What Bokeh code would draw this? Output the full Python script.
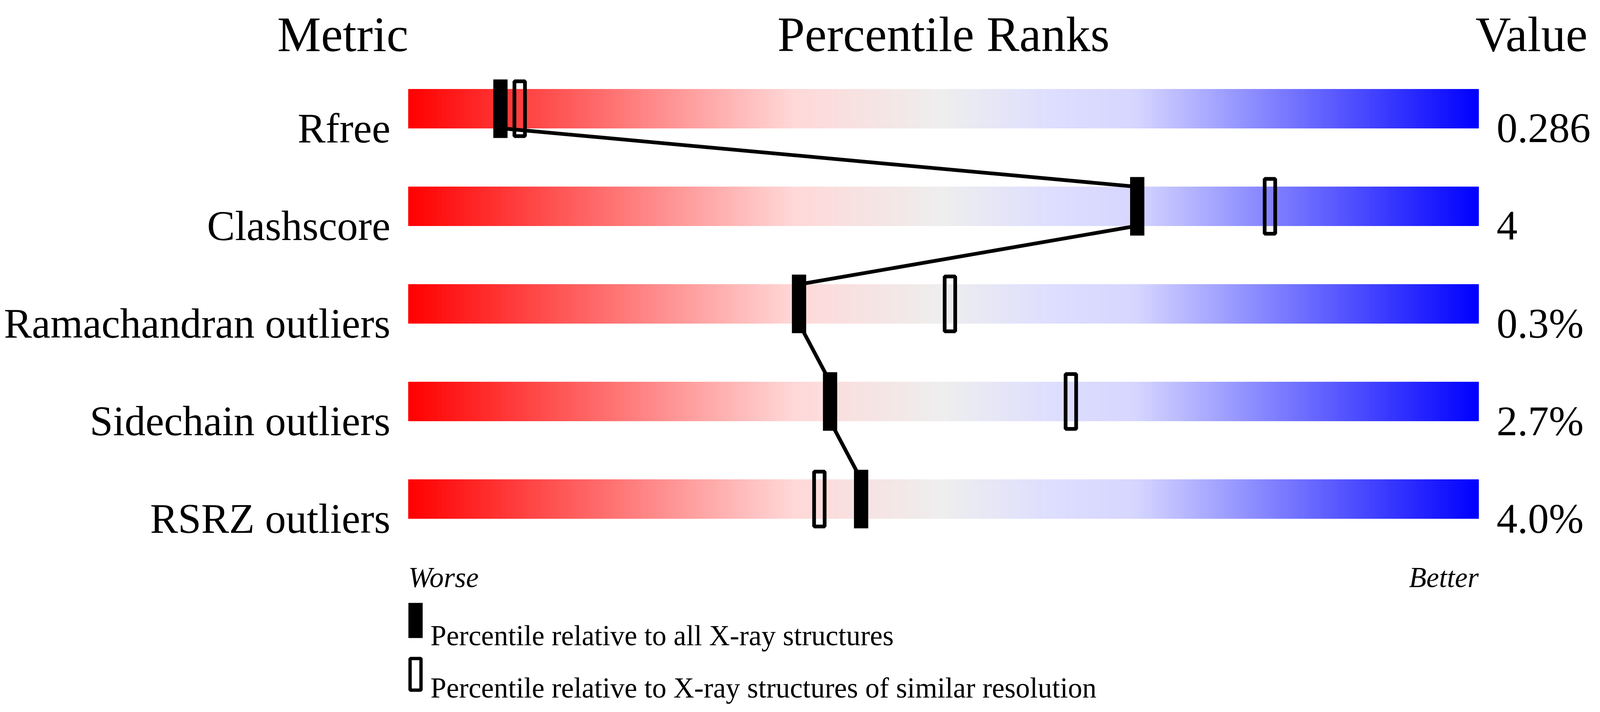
import numpy as np
from bokeh.core.properties import value
from bokeh.embed import file_html
from bokeh.models import Range1d
from bokeh.plotting import figure
from bokeh.resources import INLINE

# --- data ---
metrics = ["Rfree", "Clashscore", "Ramachandran outliers",
           "Sidechain outliers", "RSRZ outliers"]
metric_values = ["0.286", "4", "0.3%", "2.7%", "4.0%"]
pct_all_xray = [8.6, 68.1, 36.5, 39.4, 42.3]       # filled markers
pct_similar_res = [10.4, 80.5, 50.6, 61.9, 38.4]   # open markers
headers = ["Metric", "Percentile Ranks", "Value"]
scale_ends = ["Worse", "Better"]
legend_labels = ["Percentile relative to all X-ray structures",
                 "Percentile relative to X-ray structures of similar resolution"]

# colour stops of the bar gradient (percentile, rgb)
GRADIENT = [(0, (255, 0, 0)), (36, (255, 216, 216)), (50, (238, 238, 238)),
            (60, (222, 222, 255)), (68, (214, 214, 255)), (100, (0, 0, 255))]

# --- layout ---
# the browser viewport is 4096 wide, so horizontal positions taken from the
# 4485 px reference are squeezed by K; vertical ones are kept as they are
K = 4096 / 4485
W, H = 4096 - 16, 1824 - 16
BAR_X0 = 1153 * K - 8          # canvas px of percentile 0
PX_PER_PCT = 30 * K
ROW0 = 286 - 8                 # canvas px of first row centre
ROW_PX = 250
BAR_H = 100 / ROW_PX
FONT = "Liberation Serif"


def px_x(px):
    """canvas px -> percentile units"""
    return (px - BAR_X0) / PX_PER_PCT


def ref_x(px):
    """reference page px -> percentile units"""
    return px_x(px * K - 8)


def ref_y(py):
    """reference page px -> row units"""
    return (py - 8 - ROW0) / ROW_PX


p = figure(width=W, height=H, output_backend="svg", toolbar_location=None,
           tools="", min_border=0, x_axis_location=None, y_axis_location=None,
           x_range=Range1d(px_x(0), px_x(W)),
           y_range=Range1d((H - ROW0) / ROW_PX, -ROW0 / ROW_PX))
p.grid.visible = False
p.outline_line_color = None
p.background_fill_color = "white"
p.border_fill_color = "white"

rows = list(range(len(metrics)))

# gradient bars drawn as thin slices
n = 600
edges = np.linspace(0, 100, n + 1)
mids = (edges[:-1] + edges[1:]) / 2
stops = [s for s, _ in GRADIENT]
cols = []
for m in mids:
    rgb = [np.interp(m, stops, [c[k] for _, c in GRADIENT]) for k in range(3)]
    cols.append("#%02x%02x%02x" % tuple(int(round(v)) for v in rgb))

for i in rows:
    p.quad(left=edges[:-1], right=edges[1:], top=[i - BAR_H / 2] * n,
           bottom=[i + BAR_H / 2] * n, fill_color=cols, line_color=cols,
           line_width=1)

# connecting line through the filled markers
line_x, line_y = [], []
for i, x in zip(rows, pct_all_xray):
    line_x += [x, x]
    line_y += [i - BAR_H / 2, i + BAR_H / 2]
p.line(line_x, line_y, line_width=9.5, line_color="black", line_join="bevel")

p.rect(x=pct_similar_res, y=rows, width=27, height=140.5, width_units="screen",
       height_units="screen", fill_color=None, line_color="black",
       line_width=9.5)
p.rect(x=pct_all_xray, y=rows, width=36.5, height=150, width_units="screen",
       height_units="screen", fill_color="black", line_color=None)

# row labels and values
p.text(x=[0] * len(rows), y=[i + BAR_H / 2 for i in rows], text=metrics,
       x_offset=-46, text_align="right", text_baseline="alphabetic",
       text_font=value(FONT), text_font_size="107px", text_color="black")
p.text(x=[100] * len(rows), y=[i + BAR_H / 2 for i in rows],
       text=metric_values, x_offset=46, text_align="left",
       text_baseline="alphabetic", text_font=value(FONT),
       text_font_size="107px", text_color="black")

# column headers
p.text(x=[0, 50, 100], y=[ref_y(96)] * 3, text=headers, x_offset=[0, 0, -8],
       text_align=["right", "center", "left"], text_baseline="alphabetic",
       text_font=value(FONT), text_font_size="126px", text_color="black")

p.text(x=[0, 100], y=[ref_y(1487)] * 2, text=scale_ends,
       text_align=["left", "right"], text_baseline="alphabetic",
       text_font=value(FONT), text_font_style="italic",
       text_font_size="73px", text_color="black")

# legend
lx = ref_x(1173)
p.rect(x=[lx], y=[ref_y(1597)], width=36.5, height=90, width_units="screen",
       height_units="screen", fill_color="black", line_color=None)
p.rect(x=[lx], y=[ref_y(1735)], width=28, height=81, width_units="screen",
       height_units="screen", fill_color=None, line_color="black",
       line_width=8.5)
p.text(x=[ref_x(1215)] * 2, y=[ref_y(1636), ref_y(1770)], text=legend_labels,
       text_align="left", text_baseline="alphabetic", text_font=value(FONT),
       text_font_size="73px", text_color="black")

open("out.html", "w").write(file_html(p, INLINE))
